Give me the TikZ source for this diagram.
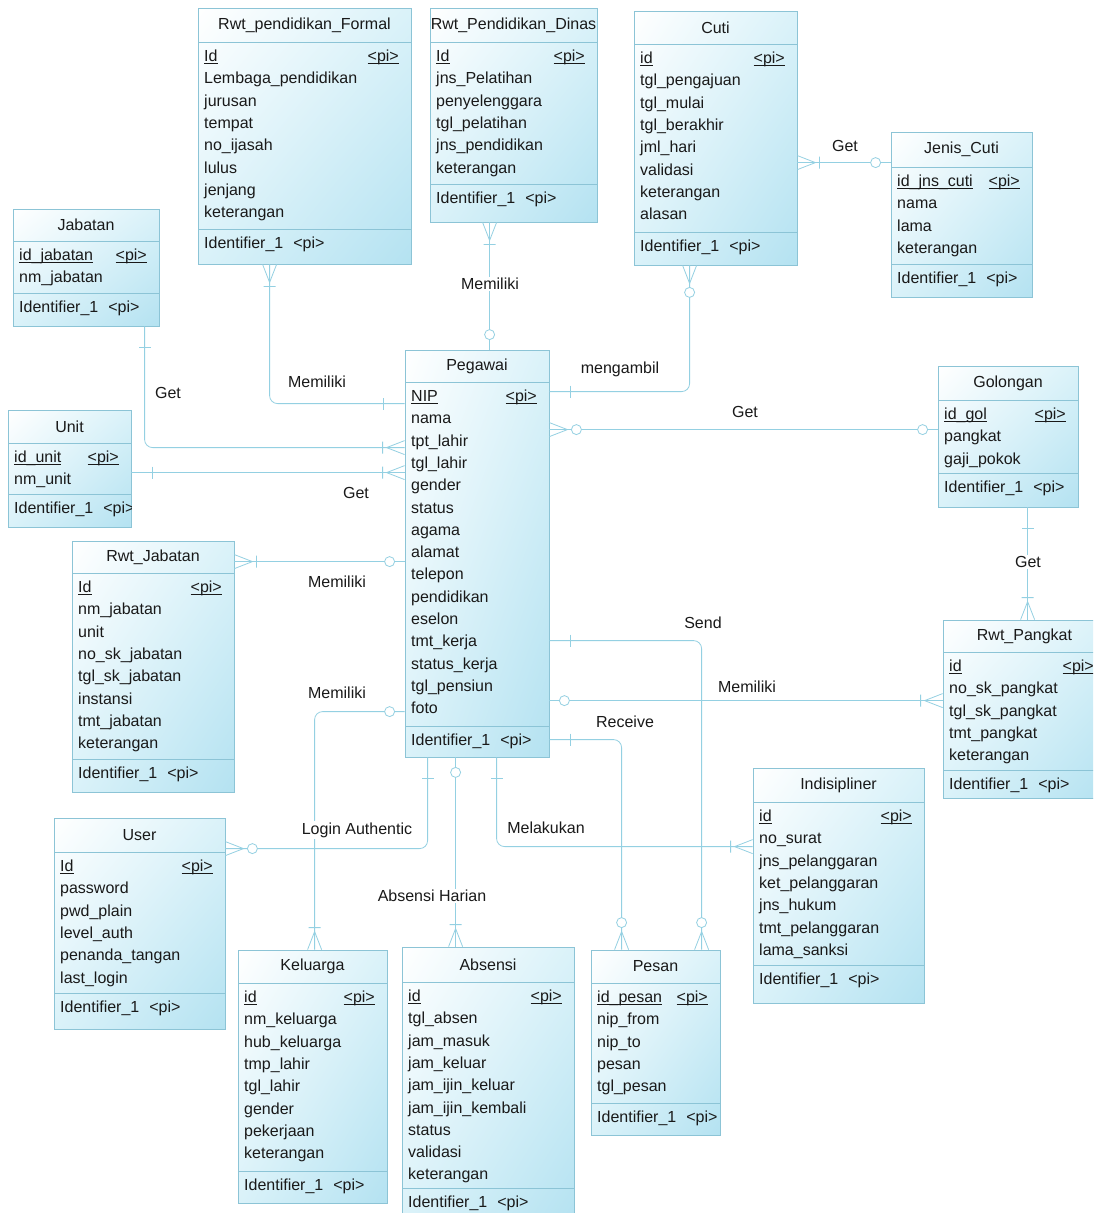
\documentclass[tikz,border=0pt]{standalone}
\usepackage{fontspec}
\setmainfont{Liberation Sans}
\usetikzlibrary{calc,fit,shadings}

\definecolor{relc}{RGB}{148,208,226}
\definecolor{edge}{RGB}{140,196,214}
\definecolor{ink}{RGB}{25,25,25}
\definecolor{tintA}{RGB}{218,242,249}
\definecolor{tintB}{RGB}{180,226,241}

% underlined primary-key text
\newcommand\pkey[1]{\setbox0\hbox{#1}\rlap{\rule[-2.2pt]{\wd0}{0.8pt}}\box0}

\tikzset{
  every node/.style={font=\fontsize{16}{19}\selectfont, text=ink},
  entity/.style={draw=edge, line width=0.8pt, inner sep=0pt,
    upper left=white, upper right=tintA, lower left=tintA, lower right=tintB},
  divider/.style={draw=edge, line width=0.7pt},
  enttitle/.style={inner sep=0pt},
  attr/.style={anchor=base west, inner sep=0pt},
  lbl/.style={fill=white, inner sep=1.5pt},
  relline/.style={draw=relc, line width=0.8pt, rounded corners=8pt},
  relmark/.style={draw=relc, line width=0.8pt},
  % connector end symbols, drawn pointing along +x away from the entity
  pics/crowbar/.style={code={\draw[relmark] (0,-7) -- (18,0) -- (0,7) (22,-6) -- (22,6);}},
  pics/crowring/.style={code={\draw[relmark] (0,-7) -- (18,0) -- (0,7);
      \draw[relmark,fill=white] (27,0) circle[radius=5pt];}},
  pics/bar/.style={code={\draw[relmark] (21,-6) -- (21,6);}},
  pics/ring/.style={code={\draw[relmark,fill=white] (15,0) circle[radius=5pt];}},
}

% entity: name, x1, y1, x2, y2, header rule y, identifier rule y, title, attributes
\newcommand\ent[9]{%
  \node[entity, fit={(#2,#3) (#4,#5)}] (#1) {};
  \draw[divider] (#2,#6) -- (#4,#6) (#2,#7) -- (#4,#7);
  \begin{scope}
    \clip (#2,#3) rectangle (#4,#5);
    \node[enttitle] (#1-t) at ({(#2+#4)/2},{(#3+#6)/2}) {#8};
    \foreach \an [count=\i from 0] in {#9} {%
      \pgfmathsetmacro\yy{#6+19.5+\i*22.3}%
      \ifnum\i=0
        \node[attr] (#1-r\i) at (#2+6,\yy) {\pkey{\an}};
        \node[attr,anchor=base east] (#1-pk) at (#4-12,\yy) {\pkey{<pi>}};
      \else
        \node[attr] (#1-r\i) at (#2+6,\yy) {\an};
      \fi
    }
    \node[attr] (#1-id) at (#2+6,#7+19.5) {Identifier\_1\hspace{10pt}<pi>};
  \end{scope}
}

\begin{document}
\begin{tikzpicture}[x=1pt,y=-1pt]
\useasboundingbox (0,0) rectangle (1093,1213);
\fill[white] (0,0) rectangle (1093,1213);
\clip (0,0) rectangle (1093,1213);

% ---------- entities ----------
\ent{fm}{198}{8}{411}{264}{42}{229}{Rwt\_pendidikan\_Formal}
  {Id,Lembaga\_pendidikan,jurusan,tempat,no\_ijasah,lulus,jenjang,keterangan}
\ent{dn}{430}{8}{597}{222}{42}{184}{Rwt\_Pendidikan\_Dinas}
  {Id,jns\_Pelatihan,penyelenggara,tgl\_pelatihan,jns\_pendidikan,keterangan}
\ent{ct}{634}{11}{797}{265}{44}{232}{Cuti}
  {id,tgl\_pengajuan,tgl\_mulai,tgl\_berakhir,jml\_hari,validasi,keterangan,alasan}
\ent{jc}{891}{132}{1032}{297}{167}{264}{Jenis\_Cuti}
  {id\_jns\_cuti,nama,lama,keterangan}
\ent{gl}{938}{366}{1078}{507}{400}{473}{Golongan}
  {id\_gol,pangkat,gaji\_pokok}
\ent{jb}{13}{209}{159}{326}{241}{293}{Jabatan}
  {id\_jabatan,nm\_jabatan}
\ent{un}{8}{410}{131}{527}{443}{494}{Unit}
  {id\_unit,nm\_unit}
\ent{rj}{72}{541}{234}{792}{573}{759}{Rwt\_Jabatan}
  {Id,nm\_jabatan,unit,no\_sk\_jabatan,tgl\_sk\_jabatan,instansi,tmt\_jabatan,keterangan}
\ent{pg}{405}{350}{549}{757}{382}{726}{Pegawai}
  {NIP,nama,tpt\_lahir,tgl\_lahir,gender,status,agama,alamat,telepon,pendidikan,eselon,tmt\_kerja,status\_kerja,tgl\_pensiun,foto}
\ent{rp}{943}{620}{1106}{798}{652}{770}{Rwt\_Pangkat}
  {id,no\_sk\_pangkat,tgl\_sk\_pangkat,tmt\_pangkat,keterangan}
\ent{ind}{753}{768}{924}{1003}{802}{965}{Indisipliner}
  {id,no\_surat,jns\_pelanggaran,ket\_pelanggaran,jns\_hukum,tmt\_pelanggaran,lama\_sanksi}
\ent{us}{54}{818}{225}{1029}{852}{993}{User}
  {Id,password,pwd\_plain,level\_auth,penanda\_tangan,last\_login}
\ent{kl}{238}{950}{387}{1203}{983}{1171}{Keluarga}
  {id,nm\_keluarga,hub\_keluarga,tmp\_lahir,tgl\_lahir,gender,pekerjaan,keterangan}
\ent{ab}{402}{947}{574}{1225}{982}{1188}{Absensi}
  {id,tgl\_absen,jam\_masuk,jam\_keluar,jam\_ijin\_keluar,jam\_ijin\_kembali,status,validasi,keterangan}
\ent{ps}{591}{950}{720}{1135}{983}{1103}{Pesan}
  {id\_pesan,nip\_from,nip\_to,pesan,tgl\_pesan}

% ---------- connector end points ----------
\coordinate (c1a)  at ($(fm.south west)+(72,0)$);
\coordinate (c1b)  at ($(pg.north west)+(0,54)$);
\coordinate (c2a)  at ($(jb.south west)+(132,0)$);
\coordinate (c2b)  at ($(pg.north west)+(0,98)$);
\coordinate (c3a)  at ($(un.north east)+(0,63)$);
\coordinate (c3b)  at ($(pg.north west)+(0,123)$);
\coordinate (c4a)  at ($(rj.north east)+(0,21)$);
\coordinate (c4b)  at ($(pg.north west)+(0,212)$);
\coordinate (c5a)  at ($(pg.north west)+(0,362)$);
\coordinate (c5b)  at ($(kl.north west)+(77,0)$);
\coordinate (c6a)  at ($(pg.south west)+(23,0)$);
\coordinate (c6b)  at ($(us.north east)+(0,31)$);
\coordinate (c7a)  at ($(pg.south west)+(51,0)$);
\coordinate (c7b)  at ($(ab.north west)+(54,0)$);
\coordinate (c8a)  at ($(pg.south west)+(92,0)$);
\coordinate (c8b)  at ($(ind.north west)+(0,79)$);
\coordinate (c9a)  at ($(pg.north east)+(0,390)$);
\coordinate (c9b)  at ($(ps.north west)+(31,0)$);
\coordinate (c10a) at ($(pg.north east)+(0,291)$);
\coordinate (c10b) at ($(ps.north west)+(111,0)$);
\coordinate (c11a) at ($(pg.north east)+(0,351)$);
\coordinate (c11b) at ($(rp.north west)+(0,81)$);
\coordinate (c12a) at ($(pg.north east)+(0,80)$);
\coordinate (c12b) at ($(gl.north west)+(0,64)$);
\coordinate (c13a) at ($(pg.north east)+(0,42)$);
\coordinate (c13b) at ($(ct.south west)+(56,0)$);
\coordinate (c14a) at ($(ct.north east)+(0,152)$);
\coordinate (c14b) at ($(jc.north west)+(0,31)$);
\coordinate (c15a) at ($(dn.south west)+(60,0)$);
\coordinate (c15b) at ($(pg.north west)+(85,0)$);
\coordinate (c16a) at ($(gl.south west)+(90,0)$);
\coordinate (c16b) at ($(rp.north west)+(85,0)$);

% ---------- connectors ----------
\draw[relline] (c1a) |- (c1b);
\draw[relline] (c2a) |- (c2b);
\draw[relline] (c3a) -- (c3b);
\draw[relline] (c4a) -- (c4b);
\draw[relline] (c5a) -| (c5b);
\draw[relline] (c6a) |- (c6b);
\draw[relline] (c7a) -- (c7b);
\draw[relline] (c8a) |- (c8b);
\draw[relline] (c9a) -| (c9b);
\draw[relline] (c10a) -| (c10b);
\draw[relline] (c11a) -- (c11b);
\draw[relline] (c12a) -- (c12b);
\draw[relline] (c13a) -| (c13b);
\draw[relline] (c14a) -- (c14b);
\draw[relline] (c15a) -- (c15b);
\draw[relline] (c16a) -- (c16b);

% ---------- relationship labels ----------
\node[lbl] (l1)  at (317,382) {Memiliki};
\node[lbl] (l2)  at (168,393) {Get};
\node[lbl] (l3)  at (356,493) {Get};
\node[lbl] (l4)  at (337,582) {Memiliki};
\node[lbl] (l5)  at (337,693) {Memiliki};
\node[lbl] (l6)  at (357,830) {Login Authentic};
\node[lbl] (l7)  at (432,896) {Absensi Harian};
\node[lbl] (l8)  at (546,828) {Melakukan};
\node[lbl] (l9)  at (625,722) {Receive};
\node[lbl] (l10) at (703,623) {Send};
\node[lbl] (l11) at (747,687) {Memiliki};
\node[lbl] (l12) at (745,412) {Get};
\node[lbl] (l13) at (620,369) {mengambil};
\node[lbl] (l14) at (845,146) {Get};
\node[lbl] (l15) at (490,284) {Memiliki};
\node[lbl] (l16) at (1028,562) {Get};

% ---------- cardinality symbols ----------
\pic[rotate=-90] at (c1a) {crowbar};   \pic[rotate=180] at (c1b) {bar};
\pic[rotate=-90] at (c2a) {bar};       \pic[rotate=180] at (c2b) {crowbar};
\pic at (c3a) {bar};                   \pic[rotate=180] at (c3b) {crowbar};
\pic at (c4a) {crowbar};               \pic[rotate=180] at (c4b) {ring};
\pic[rotate=180] at (c5a) {ring};      \pic[rotate=90] at (c5b) {crowbar};
\pic[rotate=-90] at (c6a) {bar};       \pic at (c6b) {crowring};
\pic[rotate=-90] at (c7a) {ring};      \pic[rotate=90] at (c7b) {crowbar};
\pic[rotate=-90] at (c8a) {bar};       \pic[rotate=180] at (c8b) {crowbar};
\pic at (c9a) {bar};                   \pic[rotate=90] at (c9b) {crowring};
\pic at (c10a) {bar};                  \pic[rotate=90] at (c10b) {crowring};
\pic at (c11a) {ring};                 \pic[rotate=180] at (c11b) {crowbar};
\pic at (c12a) {crowring};             \pic[rotate=180] at (c12b) {ring};
\pic at (c13a) {bar};                  \pic[rotate=-90] at (c13b) {crowring};
\pic at (c14a) {crowbar};              \pic[rotate=180] at (c14b) {ring};
\pic[rotate=-90] at (c15a) {crowbar};  \pic[rotate=90] at (c15b) {ring};
\pic[rotate=-90] at (c16a) {bar};      \pic[rotate=90] at (c16b) {crowbar};
\end{tikzpicture}
\end{document}
